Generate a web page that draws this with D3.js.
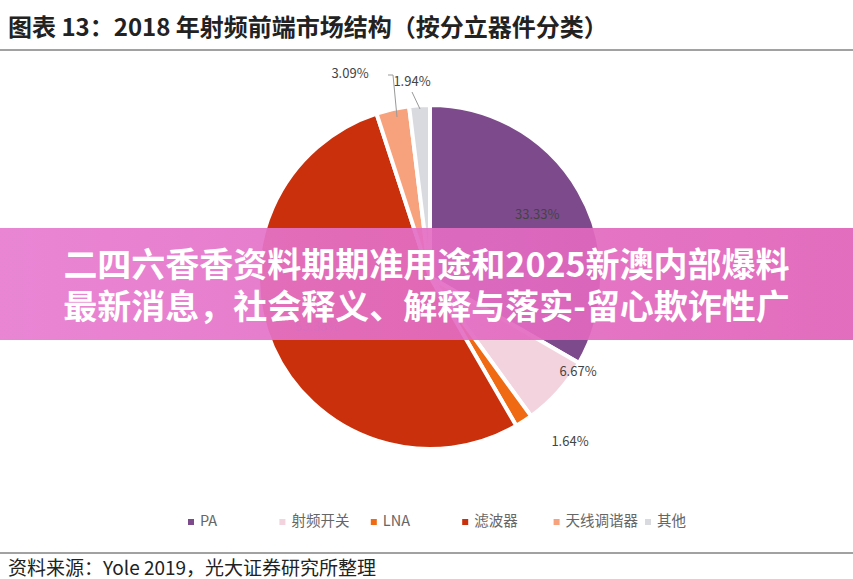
<!DOCTYPE html>
<html><head><meta charset="utf-8">
<script src="https://cdn.jsdelivr.net/npm/d3@7"></script>
<style>body{margin:0;background:#fff;font-family:"Noto Sans CJK SC","Noto Sans",sans-serif}</style>
</head><body><div id="chart"></div>
<script>
"use strict";

const categories = ["PA", "射频开关", "LNA", "滤波器", "天线调谐器", "其他"];
const shares = [33.33, 6.67, 1.64, 53.33, 3.09, 1.94];
const colors = ["#7d4b8c", "#f3d3de", "#ef6a12", "#c9300b", "#f7a27c", "#d9dadf"];

const W = 853, H = 579;
const svg = d3.select("#chart").append("svg").attr("width", W).attr("height", H);

svg.append("text").attr("x", 8).attr("y", 36)
  .attr("font-size", 24).attr("font-weight", "bold").attr("fill", "#222")
  .text("图表 13：2018 年射频前端市场结构（按分立器件分类）");
svg.append("line").attr("x1", 0).attr("x2", W).attr("y1", 50).attr("y2", 50)
  .attr("stroke", "#444").attr("stroke-width", 1);

const cx = 430, cy = 277, r = 172;
const pie = d3.pie().sort(null).value(d => d)(shares);
const arc = d3.arc().innerRadius(0).outerRadius(r);
const g = svg.append("g").attr("transform", `translate(${cx},${cy})`);

g.selectAll("path").data(pie).enter().append("path")
  .attr("d", arc)
  .attr("fill", (d, i) => colors[i])
  .attr("stroke", "#fff").attr("stroke-width", 4);

// labels
const labelArc = d3.arc().innerRadius(r * 0.72).outerRadius(r * 0.72);
const fmt = v => v.toFixed(2) + "%";
const outside = {1: [148, 95], 2: [140, 165], 4: [-80, -203], 5: [-18, -195]};
pie.forEach((d, i) => {
  let x, y;
  if (outside[i]) { [x, y] = outside[i]; }
  else { [x, y] = labelArc.centroid(d); }
  g.append("text").attr("x", x).attr("y", y)
    .attr("text-anchor", "middle").attr("dominant-baseline", "middle")
    .attr("font-size", 13).attr("fill", "#444").text(fmt(shares[i]));
});
// leader lines for small slices
g.append("polyline").attr("points", "-42,-202 -37,-202 -33,-160")
  .attr("fill", "none").attr("stroke", "#999");
g.append("polyline").attr("points", "-18,-185 -10,-168")
  .attr("fill", "none").attr("stroke", "#999");

// legend
const lx = d3.scalePoint().domain(categories).range([188, 645]);
const lg = svg.append("g").selectAll("g").data(categories).enter().append("g")
  .attr("transform", d => `translate(${lx(d)},522)`);
lg.append("rect").attr("x", 0).attr("y", -3).attr("width", 6).attr("height", 6)
  .attr("fill", (d, i) => colors[i]);
lg.append("text").attr("x", 12).attr("y", 0).attr("dominant-baseline", "middle")
  .attr("font-size", 14.5).attr("fill", "#666").text(d => d);

svg.append("line").attr("x1", 0).attr("x2", W).attr("y1", 553).attr("y2", 553)
  .attr("stroke", "#444").attr("stroke-width", 1);
svg.append("text").attr("x", 8).attr("y", 575).attr("font-size", 19).attr("fill", "#222")
  .text("资料来源：Yole 2019，光大证券研究所整理");

// overlay banner
const grad = svg.append("defs").append("linearGradient").attr("id", "bn");
grad.append("stop").attr("offset", "0%").attr("stop-color", "#e77bd0").attr("stop-opacity", 0.92);
grad.append("stop").attr("offset", "100%").attr("stop-color", "#e060b8").attr("stop-opacity", 0.92);
svg.append("rect").attr("x", 0).attr("y", 228).attr("width", W).attr("height", 112)
  .attr("fill", "url(#bn)");
const bannerLines = ["二四六香香资料期期准用途和2025新澳内部爆料", "最新消息，社会释义、解释与落实-留心欺诈性广"];
svg.selectAll(".bl").data(bannerLines).enter().append("text")
  .attr("x", W / 2).attr("y", (d, i) => 268 + i * 42)
  .attr("text-anchor", "middle").attr("dominant-baseline", "middle")
  .attr("font-size", 34).attr("font-weight", "bold").attr("fill", "#fff").text(d => d);
</script></body></html>
